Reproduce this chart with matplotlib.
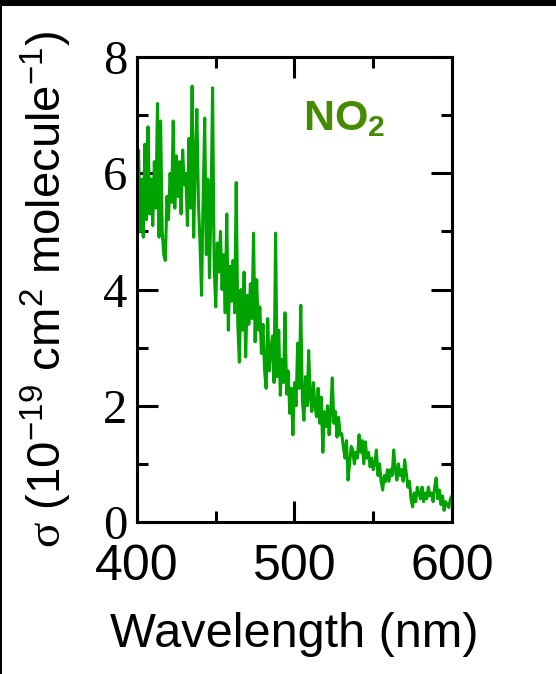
import matplotlib
matplotlib.use('Agg')
import matplotlib.pyplot as plt
from matplotlib.patches import Rectangle
from matplotlib.ticker import MultipleLocator
import numpy as np

# NO2 absorption cross section at 1 nm steps (400-600 nm)
wavelength_start = 400
wavelength_step = 1
sigma_values = [
    5.6, 6.4, 5.0, 5.9, 4.9, 6.5, 5.2, 6.8, 5.3, 5.9,
    5.1, 6.2, 5.4, 7.2, 4.9, 6.9, 5.0, 4.6, 4.5, 5.6,
    5.2, 6.0, 5.5, 6.9, 5.4, 6.3, 5.6, 6.2, 5.3, 6.4,
    5.8, 6.0, 5.1, 6.6, 5.4, 7.5, 4.9, 6.2, 7.1, 5.5,
    4.8, 3.9, 5.6, 6.95, 4.6, 5.9, 4.2, 5.4, 7.47, 4.4,
    3.7, 4.8, 4.3, 5.0, 4.0, 4.6, 3.6, 5.3, 3.3, 4.4,
    3.8, 4.5, 3.6, 5.84, 3.4, 2.75, 4.0, 3.3, 4.3, 2.84,
    3.9, 3.4, 4.1, 3.5, 4.97, 3.1, 4.17, 3.3, 3.7, 2.9,
    3.4, 2.6, 2.3, 3.5, 2.6, 2.95, 3.2, 2.4, 4.97, 2.5,
    3.3, 2.18, 2.8, 2.4, 3.6, 2.2, 2.6, 1.87, 2.3, 1.5,
    2.4, 2.0, 3.08, 2.3, 3.73, 2.1, 1.75, 2.5, 2.0, 2.95,
    2.2, 1.9, 2.4, 2.0, 1.81, 2.3, 1.7, 2.15, 1.2, 1.9,
    1.64, 2.0, 1.5, 1.9, 2.48, 1.7, 1.9, 1.46, 1.8, 1.5,
    1.52, 1.3, 1.1, 1.4, 0.72, 1.0, 1.3, 1.24, 1.0, 1.2,
    1.1, 1.5, 1.2, 1.4, 1.0, 1.38, 1.1, 1.2, 0.95, 1.1,
    0.9, 1.0, 1.24, 0.8, 1.0, 0.7, 0.55, 0.8, 0.7, 0.9,
    0.7, 0.9, 0.8, 1.24, 0.9, 0.72, 1.0, 0.8, 0.9, 0.7,
    1.07, 0.84, 0.6, 0.7, 0.4, 0.26, 0.5, 0.35, 0.6, 0.5,
    0.4, 0.6, 0.35, 0.5, 0.4, 0.6, 0.45, 0.5, 0.35, 0.6,
    0.76, 0.4, 0.55, 0.3, 0.45, 0.2, 0.35, 0.3, 0.25, 0.4,
    0.45,
]
wavelengths = wavelength_start + wavelength_step * np.arange(len(sigma_values))

x_ticks = [400, 500, 600]
y_ticks = [0, 2, 4, 6, 8]
species_label = r'NO$_\mathbf{2}$'

plt.rcParams['mathtext.fontset'] = 'custom'
plt.rcParams['mathtext.rm'] = 'Liberation Serif'
plt.rcParams['mathtext.sf'] = 'Liberation Sans'
plt.rcParams['mathtext.bf'] = 'Liberation Sans:bold'

fig = plt.figure(figsize=(5.56, 6.74), dpi=100)
ax = fig.add_axes([0.2464, 0.2255, 0.5665, 0.6899])

ax.plot(wavelengths, sigma_values, color='#00a300', lw=2.2)

ax.set_xlim(400, 600)
ax.set_ylim(0, 8)
ax.set_xticks(x_ticks)
ax.set_yticks(y_ticks)
ax.xaxis.set_minor_locator(MultipleLocator(50))
ax.yaxis.set_minor_locator(MultipleLocator(1))
ax.tick_params(which='both', direction='in', top=True, right=True, width=2.2, color='black')
ax.tick_params(which='major', length=15)
ax.tick_params(which='minor', length=8)
ax.tick_params(axis='x', pad=16)
ax.tick_params(axis='y', pad=7)
for lab in ax.get_xticklabels():
    lab.set_fontfamily('Liberation Sans')
    lab.set_fontsize(36)
for lab in ax.get_yticklabels():
    lab.set_fontfamily('Liberation Serif')
    lab.set_fontsize(35)
for sp in ax.spines.values():
    sp.set_linewidth(2.2)

ax.set_xlabel('Wavelength (nm)', fontfamily='Liberation Sans', fontsize=35, labelpad=16)
ax.set_ylabel(r'$\mathrm{\sigma}$ (10$^{\mathsf{-19}}$ cm$^{\mathsf{2}}$ molecule$^{\mathsf{-1}}$)',
              fontfamily='Liberation Sans', fontsize=34)
ax.yaxis.set_label_coords(-0.2, 0.5)

ax.text(505.5, 6.75, species_label, color='#468a00', fontsize=31, fontweight='bold',
        fontfamily='Liberation Sans', ha='left', va='baseline')

# black frame strips along the top and left edges of the original image
fig.patches.append(Rectangle((0, 1 - 6 / 674), 1, 6 / 674, transform=fig.transFigure,
                             facecolor='black', edgecolor='none'))
fig.patches.append(Rectangle((0, 0), 2 / 556, 1, transform=fig.transFigure,
                             facecolor='black', edgecolor='none'))

fig.savefig('out.png', dpi=100)
